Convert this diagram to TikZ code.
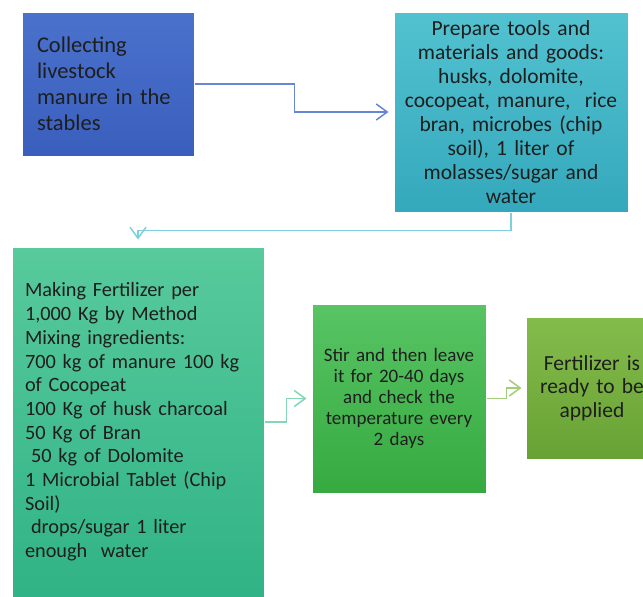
\documentclass[tikz,border=0pt]{standalone}
\usepackage{fontspec}
\setmainfont{Carlito}
\definecolor{stableblue}{HTML}{4A72CC}
\definecolor{stablebluedark}{HTML}{3A5EBD}
\definecolor{tooltealtop}{HTML}{52C2D0}
\definecolor{tooltealbot}{HTML}{34A8BC}
\definecolor{mixgreentop}{HTML}{58CA9C}
\definecolor{mixgreenbot}{HTML}{30B386}
\definecolor{stirgreentop}{HTML}{58C464}
\definecolor{stirgreenbot}{HTML}{36AA40}
\definecolor{readygreentop}{HTML}{84BC4C}
\definecolor{readygreenbot}{HTML}{68A234}
\definecolor{inktext}{HTML}{1E1E1E}
\usetikzlibrary{positioning}
\usetikzlibrary{arrows.meta}

\begin{document}
\begin{tikzpicture}[x=1pt, y=-1pt,
    stagebox/.style={rectangle, inner sep=0pt, text=inktext, draw=white, line width=1pt},
    flowline/.style={line width=1.5pt, -{Straight Barb[length=11pt, width=16pt, line width=1.5pt]}},
  ]
  \useasboundingbox (0,0) rectangle (643,597);

  % stages
  \node[stagebox, top color=stableblue, bottom color=stablebluedark,
        minimum width=172pt, minimum height=144pt, text width=142pt, align=left,
        font=\fontsize{22.5}{26}\selectfont] (collect) at (108,84)
    {Collecting\\livestock\\manure in the\\stables};
  \node[stagebox, top color=tooltealtop, bottom color=tooltealbot,
        minimum width=234pt, minimum height=200pt, text width=228pt, align=center,
        font=\fontsize{21.5}{24}\selectfont] (prepare) at (511,112)
    {Prepare tools and\\materials and goods:\\husks, dolomite,\\cocopeat, manure,~ rice\\bran, microbes (chip\\soil), 1 liter of\\molasses/sugar and\\water};
  \node[stagebox, top color=mixgreentop, bottom color=mixgreenbot,
        minimum width=252pt, minimum height=350pt, text width=226pt, align=left,
        font=\fontsize{20.3}{23.7}\selectfont] (mixing) at (138,422)
    {Making Fertilizer per\\1,000 Kg by Method\\Mixing ingredients:\\700 kg of manure 100 kg\\of Cocopeat\\100 Kg of husk charcoal\\50 Kg of Bran\\\hspace*{6pt}50 kg of Dolomite\\1 Microbial Tablet (Chip\\Soil)\\\hspace*{6pt}drops/sugar 1 liter\\enough~ water};
  \node[stagebox, top color=stirgreentop, bottom color=stirgreenbot,
        minimum width=174pt, minimum height=189pt, text width=170pt, align=center,
        font=\fontsize{19}{21.2}\selectfont] (stir) at (399,398.5)
    {Stir and then leave\\it for 20-40 days\\and check the\\temperature every\\2 days};
  \node[stagebox, top color=readygreentop, bottom color=readygreenbot,
        minimum width=132pt, minimum height=142pt, text width=128pt, align=center,
        font=\fontsize{21.5}{23.5}\selectfont] (ready) at (592,388)
    {Fertilizer is\\ready to be\\applied};

  % connectors
  \draw[flowline, color=stableblue!85!white, shorten >=5pt]
    (collect.east) -- ++(100,0) |- (prepare.west);
  \draw[flowline, color=tooltealtop!75!white, shorten >=7pt]
    (prepare.south) -- ++(0,18) -| (mixing.north);
  \draw[flowline, color=mixgreentop!75!white, shorten >=5pt]
    (mixing.east) -- ++(22,0) |- (stir.west);
  \draw[flowline, color=readygreentop!75!white, shorten >=4pt]
    (stir.east) -- ++(20,0) |- (ready.west);
\end{tikzpicture}
\end{document}
